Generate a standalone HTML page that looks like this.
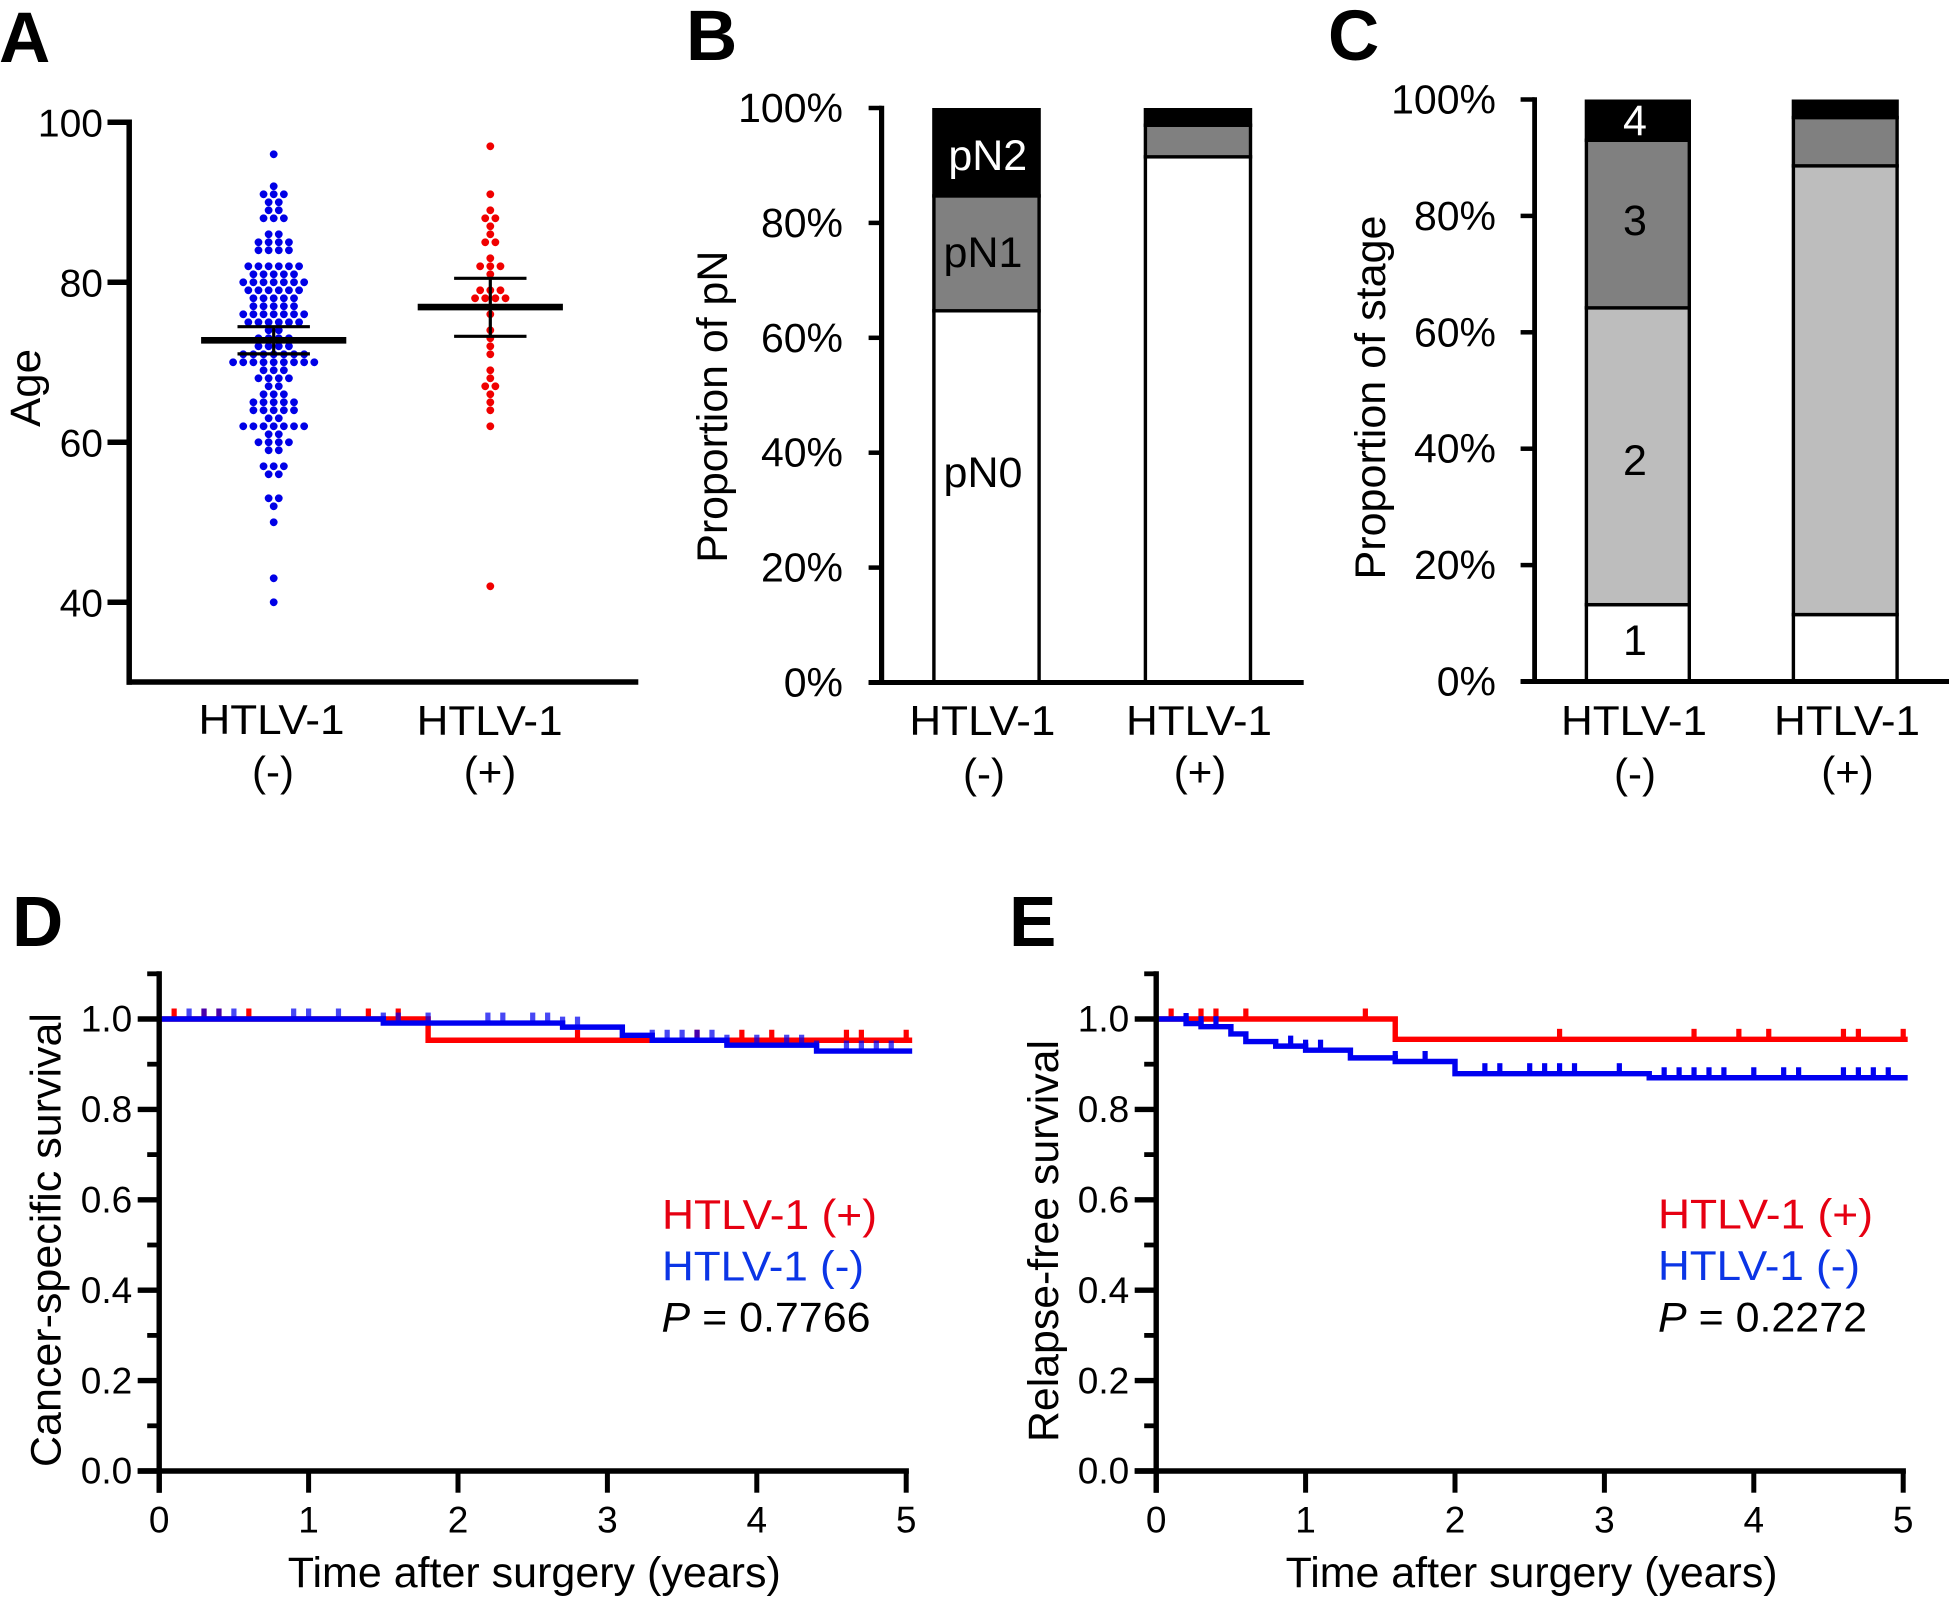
<!DOCTYPE html>
<html lang="en">
<head>
<meta charset="utf-8">
<title>HTLV-1 panels</title>
<style>
html,body{margin:0;padding:0;background:#fff;width:1949px;height:1597px;overflow:hidden}
svg{display:block}
text{font-family:"Liberation Sans",Arial,sans-serif;fill:#000}
.panel{font-weight:700;font-size:71px}
.tick{font-size:41px;text-anchor:end}
.cat{font-size:42px;text-anchor:middle}
.title{font-size:43px;text-anchor:middle}
.km{font-size:37px}
.age{font-size:39px}
.leg{font-size:42px}
</style>
</head>
<body>
<svg id="fig" xmlns="http://www.w3.org/2000/svg" width="1949" height="1597" viewBox="0 0 1949 1597">
  <rect x="0" y="0" width="1949" height="1597" fill="#fff"/>

  <text class="panel" x="-1" y="62">A</text>
  <text class="panel" x="686" y="60">B</text>
  <text class="panel" x="1328" y="60">C</text>
  <text class="panel" x="12" y="946">D</text>
  <text class="panel" x="1009" y="946">E</text>

  <g id="panelA"></g>
  <g id="panelB"></g>
  <g id="panelC"></g>
  <g id="panelD"></g>
  <g id="panelE"></g>

  <text class="title" transform="translate(40,388) rotate(-90)" textLength="78" lengthAdjust="spacingAndGlyphs">Age</text>
  <text class="cat" x="271.5" y="734" textLength="146" lengthAdjust="spacingAndGlyphs">HTLV-1</text>
  <text class="cat" x="273" y="786">(-)</text>
  <text class="cat" x="489.6" y="735" textLength="146" lengthAdjust="spacingAndGlyphs">HTLV-1</text>
  <text class="cat" x="490" y="786">(+)</text>

  <text class="title" transform="translate(727,406.7) rotate(-90)" textLength="312" lengthAdjust="spacingAndGlyphs">Proportion of pN</text>
  <text class="cat" x="982.4" y="735" textLength="146" lengthAdjust="spacingAndGlyphs">HTLV-1</text>
  <text class="cat" x="984" y="788">(-)</text>
  <text class="cat" x="1199" y="735" textLength="146" lengthAdjust="spacingAndGlyphs">HTLV-1</text>
  <text class="cat" x="1200" y="786">(+)</text>

  <text class="title" transform="translate(1385,397.5) rotate(-90)" textLength="364" lengthAdjust="spacingAndGlyphs">Proportion of stage</text>
  <text class="cat" x="1634" y="735" textLength="146" lengthAdjust="spacingAndGlyphs">HTLV-1</text>
  <text class="cat" x="1635" y="788">(-)</text>
  <text class="cat" x="1847" y="735" textLength="146" lengthAdjust="spacingAndGlyphs">HTLV-1</text>
  <text class="cat" x="1847.5" y="786">(+)</text>

  <text class="title" transform="translate(60.7,1240) rotate(-90)" textLength="454" lengthAdjust="spacingAndGlyphs">Cancer-specific survival</text>
  <text class="title" x="534.3" y="1587" textLength="493" lengthAdjust="spacingAndGlyphs">Time after surgery (years)</text>
  <text class="leg" x="662" y="1229" style="fill:#e60012" textLength="215" lengthAdjust="spacingAndGlyphs">HTLV-1 (+)</text>
  <text class="leg" x="662" y="1280.5" style="fill:#0b35e6" textLength="202" lengthAdjust="spacingAndGlyphs">HTLV-1 (-)</text>
  <text class="leg" x="661.5" y="1331.7" textLength="209" lengthAdjust="spacingAndGlyphs"><tspan font-style="italic">P</tspan> = 0.7766</text>

  <text class="title" transform="translate(1057.8,1241) rotate(-90)" textLength="402" lengthAdjust="spacingAndGlyphs">Relapse-free survival</text>
  <text class="title" x="1531.6" y="1587" textLength="492" lengthAdjust="spacingAndGlyphs">Time after surgery (years)</text>
  <text class="leg" x="1658" y="1228.5" style="fill:#e60012" textLength="215" lengthAdjust="spacingAndGlyphs">HTLV-1 (+)</text>
  <text class="leg" x="1658" y="1280" style="fill:#0b35e6" textLength="202" lengthAdjust="spacingAndGlyphs">HTLV-1 (-)</text>
  <text class="leg" x="1658" y="1331.7" textLength="209" lengthAdjust="spacingAndGlyphs"><tspan font-style="italic">P</tspan> = 0.2272</text>
</svg>

<script>
// Panel A data
const ageTicks = [100, 80, 60, 40];
const blueAges = [96,92,91,90,89,88,86,85,84,82,81,80,79,78,77,76,75,74,73,72,71,70,69,68,67,66,65,64,63,62,61,60,59,57,56,53,52,50,43,40];
const blueCounts = [1,1,3,2,2,3,2,4,4,6,5,7,6,5,5,7,6,2,4,4,7,9,3,4,2,3,5,5,2,7,2,4,2,3,2,2,1,1,1,1];
const redAges = [97,91,89,88,87,86,85,83,82,81,79,78,76,74,73,72,71,69,68,67,66,65,64,62,42];
const redCounts = [1,1,1,2,1,1,2,1,3,1,3,4,1,1,1,1,1,1,1,2,1,1,1,1,1];
const blueSummary = [72.75, 71.05, 74.45];
const redSummary = [76.9, 73.25, 80.5];

// Panel B data (cumulative tops, percent)
const pctTicks = [0, 20, 40, 60, 80, 100];
const pnNegativeTops = [64.7, 84.7, 100];
const pnPositiveTops = [91.5, 97, 100];

// Panel C data (cumulative tops, percent)
const stageNegativeTops = [13.2, 64.2, 93, 100];
const stagePositiveTops = [11.5, 88.6, 96.9, 100];

// Survival axes
const survivalTicks = [0, 0.1, 0.2, 0.3, 0.4, 0.5, 0.6, 0.7, 0.8, 0.9, 1.0, 1.1];
const yearTicks = [0, 1, 2, 3, 4, 5];

// Panel D curves
const dRedStepTimes = [0, 1.8, 5.04];
const dRedStepSurvival = [1, 0.953, 0.953];
const dRedCensorTimes = [0.1,0.3,0.4,0.6,1.4,1.6,2.8,3.6,3.9,4.1,4.6,4.7,5.0];
const dBlueStepTimes = [0, 1.5, 2.7, 3.1, 3.3, 3.8, 4.4, 5.04];
const dBlueStepSurvival = [1, 0.991, 0.982, 0.964, 0.953, 0.942, 0.929, 0.929];
const dBlueCensorTimes = [0.2,0.3,0.4,0.5,0.9,1.0,1.2,1.5,1.6,1.8,2.2,2.3,2.5,2.6,2.7,2.8,3.3,3.4,3.5,3.6,3.7,3.8,4.0,4.2,4.3,4.4,4.6,4.7,4.8,4.9];

// Panel E curves
const eRedStepTimes = [0, 1.6, 5.03];
const eRedStepSurvival = [1, 0.955, 0.955];
const eRedCensorTimes = [0.1,0.3,0.4,0.6,1.4,2.7,3.6,3.9,4.1,4.6,4.7,5.0];
const eBlueStepTimes = [0, 0.2, 0.3, 0.5, 0.6, 0.8, 1.0, 1.3, 1.6, 2.0, 3.3, 5.03];
const eBlueStepSurvival = [1, 0.99, 0.983, 0.967, 0.95, 0.94, 0.931, 0.914, 0.906, 0.879, 0.87, 0.87];
const eBlueCensorTimes = [0.2,0.3,0.4,0.9,1.0,1.1,1.6,1.8,2.2,2.3,2.5,2.6,2.7,2.8,3.1,3.4,3.5,3.6,3.7,3.8,4.0,4.2,4.3,4.6,4.7,4.8,4.9];

const NS = 'http://www.w3.org/2000/svg';
function mk(tag, attrs, parent) {
  const el = document.createElementNS(NS, tag);
  for (const k in attrs) el.setAttribute(k, attrs[k]);
  parent.appendChild(el);
  return el;
}
function line(parent, x1, y1, x2, y2, w, color) {
  return mk('line', {x1: x1, y1: y1, x2: x2, y2: y2, stroke: color || '#000', 'stroke-width': w}, parent);
}
function label(parent, cls, x, y, str) {
  const t = mk('text', {class: cls, x: x, y: y}, parent);
  t.textContent = str;
  return t;
}

/* ---------- Panel A ---------- */
(function () {
  const g = document.getElementById('panelA');
  const yA = v => 602.3 - (v - 40) * 8;
  const SP = 10.15, BX = 273.7, RX = 490.3;

  const yAxis = line(g, 129.2, yA(100) - 2.75, 129.2, 684.7, 5.5);
  
  
  const xAxis = line(g, 126.6, 682, 638.3, 682, 5.5);
  
  

  ageTicks.forEach(v => {
    const tk = line(g, 107.5, yA(v), 129, yA(v), 5.5);
    
    
    const lb = label(g, 'tick age', 103, yA(v) + 14, String(v));
    
    
  });

  function swarm(ages, counts, cx, color, name) {
    ages.forEach((age, r) => {
      const n = counts[r];
      for (let i = 0; i < n; i++) {
        const c = mk('circle', {cx: cx + (i - (n - 1) / 2) * SP, cy: yA(age), r: 3.9, fill: color}, g);
        
        
      }
    });
  }
  swarm(blueAges, blueCounts, BX, '#0000e6', 'htlv-negative-age-dot');
  swarm(redAges, redCounts, RX, '#f00000', 'htlv-positive-age-dot');

  function summary(vals, cx, name) {
    const m = line(g, cx - 72.6, yA(vals[0]), cx + 72.6, yA(vals[0]), 6.6);
    
    
    const v = line(g, cx, yA(vals[2]), cx, yA(vals[1]), 3.2);
    
    
    [vals[1], vals[2]].forEach(val => {
      const cap = line(g, cx - 36.2, yA(val), cx + 36.2, yA(val), 3.2);
      
      
    });
  }
  summary(blueSummary, BX, 'htlv-negative');
  summary(redSummary, RX, 'htlv-positive');
})();

/* ---------- Stacked bars ---------- */
function stacked(g, o) {
  const y = p => o.y0 - p * o.unit;
  o.ticks.forEach(p => {
    const tk = line(g, o.tickX, y(p), o.axisX, y(p), 4.5);
    
    
    const lb = label(g, 'tick', o.labelX, y(p) + 14, p + '%');
    
    
  });
  o.bars.forEach((bar, b) => {
    let prev = 0;
    bar.tops.forEach((top, s) => {
      const sw = 3.4;
      const r = mk('rect', {
        x: bar.left + sw / 2, y: y(top) + (top === 100 ? sw / 2 : 0),
        width: bar.right - bar.left - sw,
        height: y(prev) - y(top) - (top === 100 ? sw / 2 : 0),
        fill: o.fills[s], stroke: '#000', 'stroke-width': sw
      }, g);
      
      
      prev = top;
    });
  });
  const yAxis = line(g, o.axisX, y(100) - 2.2, o.axisX, o.y0 + 2, o.axisW);
  
  
  const xAxis = line(g, o.tickX, o.y0, o.xEnd, o.y0, 5);
  
  
}

stacked(document.getElementById('panelB'), {
  prefix: 'pn', y0: 682.5, unit: 5.745, ticks: pctTicks, tickX: 868.6, axisX: 881.6, axisW: 5.2,
  labelX: 843, xEnd: 1303.7, fills: ['#ffffff', '#808080', '#000000'],
  bars: [
    {left: 932.2, right: 1040.8, tops: pnNegativeTops},
    {left: 1143.7, right: 1252.2, tops: pnPositiveTops}
  ]
});
stacked(document.getElementById('panelC'), {
  prefix: 'stage', y0: 681.5, unit: 5.82, ticks: pctTicks, tickX: 1520.6, axisX: 1534.6, axisW: 4.8,
  labelX: 1496, xEnd: 1949, fills: ['#ffffff', '#bdbdbd', '#808080', '#000000'],
  bars: [
    {left: 1584.7, right: 1691, tops: stageNegativeTops},
    {left: 1791.7, right: 1898.8, tops: stagePositiveTops}
  ]
});

(function () {
  const b = document.getElementById('panelB');
  [['pN2', 987.8, 170, '#fff'], ['pN1', 983, 267, '#000'], ['pN0', 983, 487, '#000']].forEach(d => {
    const t = mk('text', {x: d[1], y: d[2], 'text-anchor': 'middle', 'font-size': 43, style: 'fill:' + d[3]}, b);
    t.textContent = d[0];
    
    
  });
  const c = document.getElementById('panelC');
  [['4', 135, '#fff'], ['3', 235, '#000'], ['2', 475, '#000'], ['1', 655, '#000']].forEach(d => {
    const t = mk('text', {x: 1635, y: d[1], 'text-anchor': 'middle', 'font-size': 43, style: 'fill:' + d[2]}, c);
    t.textContent = d[0];
    
    
  });
})();

/* ---------- Survival ---------- */
function survival(g, o) {
  const X = t => o.x0 + t * 149.4;
  const Y = s => 1471 - s * 452;

  function curve(times, surv, censors, color, tickOpacity, name) {
    let d = 'M' + X(times[0]) + ' ' + Y(surv[0]);
    for (let i = 1; i < times.length; i++) {
      d += 'H' + X(times[i]) + 'V' + Y(surv[i]);
    }
    const p = mk('path', {d: d, fill: 'none', stroke: color, 'stroke-width': 5.4, 'stroke-linejoin': 'miter'}, g);
    
    
    censors.forEach(t => {
      let s = surv[0];
      for (let i = 0; i < times.length; i++) {
        if (times[i] <= t + 1e-9) s = surv[i];
      }
      const tk = mk('rect', {x: X(t) - 2.6, y: Y(s) - 10.5, width: 5.2, height: 10.5, fill: color, opacity: tickOpacity}, g);
      
      
    });
  }
  curve(o.redT, o.redS, o.redC, '#ff0000', 1, o.prefix + '-htlv-positive');
  curve(o.blueT, o.blueS, o.blueC, '#0000f0', o.blueOp, o.prefix + '-htlv-negative');

  const yAxis = line(g, o.x0, Y(1.1) - 2.6, o.x0, 1492.7, 5.4);
  
  
  const xAxis = line(g, o.x0 - 21.5, 1471, X(5) + 2.7, 1471, 5.4);
  
  

  survivalTicks.forEach((s, i) => {
    const major = i % 2 === 0;
    const left = o.x0 - (major ? 21.5 : 12);
    const isLabelled = s <= 1.0 && major;
    const tk = line(g, left, Y(s), o.x0, Y(s), major ? 5.4 : 4.8);
    
    
    if (isLabelled) {
      const lb = label(g, 'tick km', o.x0 - 27, Y(s) + 12.7, s.toFixed(1));
      
      
    }
  });
  yearTicks.forEach(t => {
    const tk = line(g, X(t), 1471, X(t), 1492.7, 5);
    
    
    const lb = mk('text', {x: X(t), y: 1532.3, 'text-anchor': 'middle', 'font-size': 37}, g);
    lb.textContent = String(t);
    
    
  });
}

survival(document.getElementById('panelD'), {
  prefix: 'd', x0: 159.2, blueOp: 0.72,
  redT: dRedStepTimes, redS: dRedStepSurvival, redC: dRedCensorTimes,
  blueT: dBlueStepTimes, blueS: dBlueStepSurvival, blueC: dBlueCensorTimes
});
survival(document.getElementById('panelE'), {
  prefix: 'e', x0: 1156.2, blueOp: 1,
  redT: eRedStepTimes, redS: eRedStepSurvival, redC: eRedCensorTimes,
  blueT: eBlueStepTimes, blueS: eBlueStepSurvival, blueC: eBlueCensorTimes
});
</script>
</body>
</html>
